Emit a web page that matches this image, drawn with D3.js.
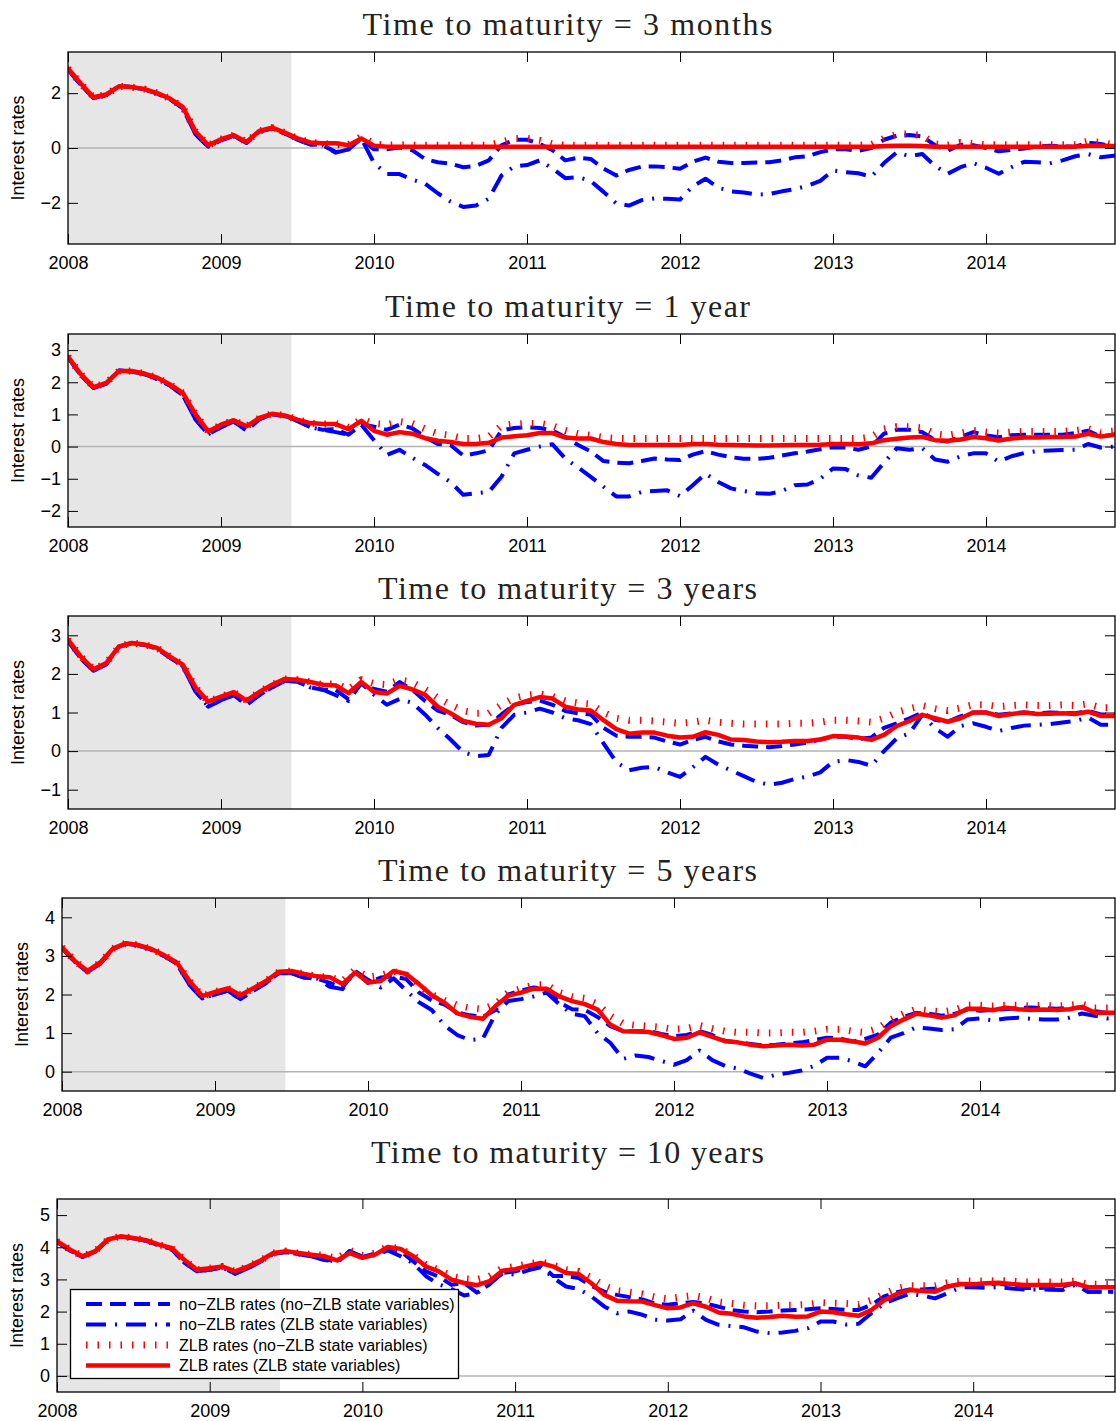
<!DOCTYPE html>
<html>
<head>
<meta charset="utf-8">
<script src="https://cdn.jsdelivr.net/npm/d3@7"></script>
<style>
  body { margin: 0; background: #fff; }
  svg { display: block; }
</style>
</head>
<body>
<svg id="chart" width="1116" height="1421"></svg>
<script>
// monthly observations, Jan 2008 .. Dec 2014
var startYear = 2008;
var nMonths = 84;
var yearTicks = [2008, 2009, 2010, 2011, 2012, 2013, 2014];
var recessionEnd = 2009.46;   // grey band: start of sample to mid 2009

var titles = [
  "Time to maturity = 3 months",
  "Time to maturity = 1 year",
  "Time to maturity = 3 years",
  "Time to maturity = 5 years",
  "Time to maturity = 10 years"
];
var yLabel = "Interest rates";
var yDomains = [[-3.5, 3.5], [-2.5, 3.5], [-1.5, 3.5], [-0.5, 4.5], [-0.5, 5.5]];
var yTicks = [[-2, 0, 2], [-2, -1, 0, 1, 2, 3], [-1, 0, 1, 2, 3], [0, 1, 2, 3, 4], [0, 1, 2, 3, 4, 5]];

var legendLabels = [
  "no\u2212ZLB rates (no\u2212ZLB state variables)",
  "no\u2212ZLB rates (ZLB state variables)",
  "ZLB rates (no\u2212ZLB state variables)",
  "ZLB rates (ZLB state variables)"
];

//---- 3 months ----
var m3NoZlbNoZlbState = [
  2.87, 2.3, 1.82, 1.93, 2.27, 2.22, 2.14, 1.98, 1.78, 1.45, 0.5, 0.05,
  0.28, 0.45, 0.18, 0.6, 0.72, 0.53, 0.3, 0.13, 0.1, -0.15, -0.05, 0.35,
  -0.05, -0.05, 0.02, -0.08, -0.4, -0.52, -0.57, -0.7, -0.65, -0.45, 0.1, 0.3,
  0.3, 0.15, -0.08, -0.45, -0.35, -0.4, -0.75, -1.0, -0.8, -0.68, -0.67, -0.7,
  -0.76, -0.5, -0.35, -0.5, -0.55, -0.55, -0.53, -0.52, -0.45, -0.34, -0.3, -0.15,
  -0.05, -0.05, -0.1, 0.0, 0.3, 0.45, 0.47, 0.42, 0.1, -0.1, 0.12, 0.1,
  0.0, -0.12, -0.07, -0.02, 0.05, 0.08, 0.06, 0.05, 0.2, 0.15, 0.05, 0.02
];
var m3NoZlbZlbState = [
  2.87, 2.3, 1.82, 1.93, 2.27, 2.22, 2.14, 1.98, 1.78, 1.45, 0.5, 0.05,
  0.28, 0.45, 0.18, 0.6, 0.72, 0.53, 0.3, 0.13, 0.1, -0.17, -0.05, 0.35,
  -0.55, -0.95, -0.95, -1.15, -1.3, -1.65, -1.95, -2.15, -2.1, -1.85, -1.0, -0.67,
  -0.62, -0.45, -0.75, -1.1, -1.06, -1.2, -1.6, -2.02, -2.1, -1.9, -1.84, -1.85,
  -1.88, -1.4, -1.12, -1.45, -1.58, -1.62, -1.7, -1.68, -1.58, -1.5, -1.38, -1.2,
  -0.82, -0.88, -0.92, -1.05, -0.55, -0.16, -0.3, -0.22, -0.65, -0.94, -0.7, -0.55,
  -0.72, -0.94, -0.7, -0.5, -0.52, -0.56, -0.45, -0.3, -0.22, -0.34, -0.28, -0.3
];
var m3ZlbNoZlbState = [
  2.9, 2.35, 1.85, 1.95, 2.25, 2.22, 2.15, 2.0, 1.8, 1.5, 0.6, 0.1,
  0.32, 0.47, 0.22, 0.62, 0.74, 0.56, 0.35, 0.2, 0.17, 0.12, 0.12, 0.42,
  0.15, 0.1, 0.12, 0.1, 0.1, 0.1, 0.1, 0.1, 0.1, 0.1, 0.22, 0.35,
  0.35, 0.28, 0.15, 0.1, 0.1, 0.1, 0.1, 0.1, 0.1, 0.1, 0.1, 0.1,
  0.1, 0.1, 0.1, 0.1, 0.1, 0.1, 0.1, 0.1, 0.1, 0.1, 0.1, 0.1,
  0.1, 0.1, 0.1, 0.12, 0.35, 0.5, 0.52, 0.45, 0.15, 0.1, 0.2, 0.15,
  0.12, 0.12, 0.12, 0.12, 0.12, 0.12, 0.12, 0.12, 0.25, 0.2, 0.12, 0.1
];
var m3ZlbZlbState = [
  2.9, 2.35, 1.85, 1.95, 2.25, 2.22, 2.15, 2.0, 1.8, 1.5, 0.6, 0.1,
  0.32, 0.47, 0.22, 0.62, 0.74, 0.56, 0.35, 0.2, 0.17, 0.17, 0.1, 0.35,
  0.08, 0.05, 0.05, 0.05, 0.05, 0.05, 0.05, 0.05, 0.05, 0.05, 0.05, 0.05,
  0.05, 0.05, 0.05, 0.05, 0.05, 0.05, 0.05, 0.05, 0.05, 0.05, 0.05, 0.05,
  0.05, 0.05, 0.05, 0.05, 0.05, 0.05, 0.05, 0.05, 0.05, 0.05, 0.05, 0.05,
  0.05, 0.05, 0.05, 0.05, 0.07, 0.08, 0.08, 0.07, 0.05, 0.05, 0.05, 0.05,
  0.05, 0.05, 0.05, 0.05, 0.05, 0.05, 0.05, 0.05, 0.08, 0.08, 0.07, 0.07
];

//---- 1 year ----
var y1NoZlbNoZlbState = [
  2.78, 2.22, 1.82, 1.96, 2.37, 2.33, 2.25, 2.1, 1.9, 1.6, 0.85, 0.38,
  0.6, 0.78, 0.5, 0.85, 1.0, 0.95, 0.8, 0.6, 0.52, 0.54, 0.37, 0.7,
  0.62, 0.52, 0.68, 0.57, 0.3, 0.08, 0.05, -0.28, -0.21, -0.12, 0.5, 0.58,
  0.6, 0.58, 0.5, 0.3, 0.05, -0.15, -0.45, -0.5, -0.52, -0.45, -0.37, -0.4,
  -0.42, -0.25, -0.14, -0.25, -0.33, -0.38, -0.38, -0.35, -0.28, -0.21, -0.15, -0.08,
  -0.02, -0.03, -0.1, 0.0, 0.4, 0.52, 0.52, 0.45, 0.2, 0.16, 0.3, 0.45,
  0.35, 0.29, 0.35, 0.37, 0.37, 0.37, 0.37, 0.42, 0.49, 0.31, 0.37, 0.37
];
var y1NoZlbZlbState = [
  2.78, 2.22, 1.82, 1.96, 2.37, 2.33, 2.25, 2.1, 1.9, 1.6, 0.85, 0.38,
  0.6, 0.78, 0.5, 0.85, 1.0, 0.95, 0.8, 0.6, 0.52, 0.45, 0.37, 0.68,
  0.2, -0.26, -0.1, -0.35, -0.57, -0.85, -1.1, -1.5, -1.45, -1.41, -0.94, -0.21,
  -0.1, 0.0, 0.07, -0.37, -0.65, -0.94, -1.25, -1.55, -1.55, -1.41, -1.38, -1.36,
  -1.54, -1.2, -0.84, -1.1, -1.3, -1.38, -1.45, -1.47, -1.38, -1.2, -1.18, -1.0,
  -0.68, -0.7, -0.9, -0.97, -0.5, -0.05, -0.1, -0.05, -0.4, -0.47, -0.3, -0.21,
  -0.21, -0.47, -0.3, -0.2, -0.14, -0.12, -0.11, -0.1, 0.08, -0.03, 0.0, 0.0
];
var y1ZlbNoZlbState = [
  2.8, 2.25, 1.85, 1.98, 2.35, 2.35, 2.27, 2.14, 1.93, 1.67, 1.0, 0.47,
  0.68, 0.82, 0.63, 0.89, 1.02, 0.97, 0.84, 0.73, 0.7, 0.72, 0.6, 0.85,
  0.72, 0.68, 0.78, 0.72, 0.55, 0.4, 0.35, 0.25, 0.25, 0.3, 0.65, 0.7,
  0.72, 0.72, 0.65, 0.5, 0.4, 0.35, 0.28, 0.25, 0.25, 0.25, 0.25, 0.25,
  0.25, 0.25, 0.25, 0.25, 0.25, 0.25, 0.25, 0.25, 0.25, 0.25, 0.25, 0.25,
  0.25, 0.25, 0.25, 0.3, 0.55, 0.62, 0.62, 0.58, 0.4, 0.35, 0.42, 0.5,
  0.45, 0.42, 0.45, 0.47, 0.47, 0.47, 0.47, 0.5, 0.55, 0.45, 0.48, 0.48
];
var y1ZlbZlbState = [
  2.8, 2.25, 1.85, 1.98, 2.35, 2.35, 2.27, 2.14, 1.93, 1.67, 1.0, 0.47,
  0.68, 0.82, 0.63, 0.89, 1.02, 0.97, 0.84, 0.73, 0.7, 0.7, 0.54, 0.8,
  0.49, 0.37, 0.45, 0.4, 0.26, 0.18, 0.14, 0.08, 0.08, 0.12, 0.28, 0.32,
  0.35, 0.42, 0.42, 0.28, 0.25, 0.25, 0.14, 0.08, 0.05, 0.05, 0.05, 0.05,
  0.05, 0.08, 0.08, 0.06, 0.05, 0.04, 0.03, 0.03, 0.04, 0.05, 0.05, 0.06,
  0.08, 0.08, 0.07, 0.1, 0.2, 0.24, 0.28, 0.3, 0.2, 0.18, 0.22, 0.3,
  0.26, 0.19, 0.25, 0.28, 0.28, 0.3, 0.3, 0.31, 0.4, 0.31, 0.37, 0.37
];

//---- 3 years ----
var y3NoZlbNoZlbState = [
  2.86, 2.4, 2.08, 2.25, 2.7, 2.8, 2.75, 2.65, 2.42, 2.2, 1.55, 1.15,
  1.32, 1.45, 1.2, 1.45, 1.65, 1.82, 1.8, 1.65, 1.59, 1.59, 1.34, 1.76,
  1.61, 1.54, 1.79, 1.59, 1.3, 1.05, 0.94, 0.75, 0.66, 0.68, 0.95, 1.2,
  1.27, 1.31, 1.2, 1.04, 0.98, 0.95, 0.6, 0.4, 0.37, 0.37, 0.35, 0.25,
  0.17, 0.29, 0.37, 0.25, 0.17, 0.14, 0.12, 0.1, 0.13, 0.17, 0.22, 0.3,
  0.37, 0.37, 0.31, 0.35, 0.6, 0.72, 0.85, 1.0, 0.81, 0.76, 0.9, 1.0,
  1.0, 0.94, 0.98, 1.0, 0.98, 1.0, 0.99, 0.98, 1.04, 0.95, 0.94, 0.94
];
var y3NoZlbZlbState = [
  2.86, 2.4, 2.08, 2.25, 2.7, 2.8, 2.75, 2.65, 2.42, 2.2, 1.55, 1.15,
  1.32, 1.45, 1.2, 1.45, 1.65, 1.82, 1.8, 1.65, 1.59, 1.45, 1.3, 1.76,
  1.46, 1.2, 1.35, 1.25, 0.95, 0.6, 0.3, -0.03, -0.13, -0.1, 0.6, 0.94,
  1.0, 1.1, 1.0, 0.85, 0.8, 0.7, 0.2, -0.28, -0.5, -0.43, -0.41, -0.55,
  -0.67, -0.42, -0.15, -0.35, -0.5, -0.65, -0.8, -0.87, -0.82, -0.72, -0.66, -0.55,
  -0.28, -0.23, -0.28, -0.38, 0.0, 0.33, 0.46, 0.94, 0.59, 0.37, 0.65, 0.72,
  0.63, 0.52, 0.6, 0.66, 0.68, 0.7, 0.74, 0.78, 0.87, 0.68, 0.69, 0.69
];
var y3ZlbNoZlbState = [
  2.89, 2.45, 2.12, 2.28, 2.71, 2.8, 2.76, 2.67, 2.45, 2.24, 1.65, 1.28,
  1.41, 1.53, 1.31, 1.53, 1.72, 1.87, 1.85, 1.79, 1.72, 1.75, 1.6, 1.85,
  1.75, 1.72, 1.85, 1.78, 1.6, 1.38, 1.2, 1.05, 0.98, 0.98, 1.2, 1.38,
  1.45, 1.48, 1.42, 1.3, 1.25, 1.22, 1.0, 0.85, 0.8, 0.8, 0.78, 0.75,
  0.72, 0.75, 0.8, 0.75, 0.72, 0.7, 0.7, 0.7, 0.7, 0.72, 0.72, 0.75,
  0.8, 0.8, 0.78, 0.75, 0.85, 1.0, 1.1, 1.18, 1.1, 1.05, 1.12, 1.2,
  1.2, 1.15, 1.18, 1.2, 1.18, 1.18, 1.2, 1.18, 1.22, 1.12, 1.12, 1.12
];
var y3ZlbZlbState = [
  2.89, 2.45, 2.12, 2.28, 2.71, 2.8, 2.76, 2.67, 2.45, 2.24, 1.65, 1.28,
  1.41, 1.53, 1.31, 1.53, 1.72, 1.87, 1.85, 1.79, 1.72, 1.7, 1.5, 1.79,
  1.53, 1.49, 1.69, 1.6, 1.46, 1.15, 0.98, 0.78, 0.71, 0.68, 0.85, 1.2,
  1.3, 1.4, 1.36, 1.15, 1.08, 1.05, 0.8, 0.57, 0.45, 0.48, 0.48, 0.4,
  0.35, 0.37, 0.49, 0.42, 0.3, 0.29, 0.25, 0.23, 0.24, 0.26, 0.26, 0.3,
  0.39, 0.38, 0.35, 0.29, 0.42, 0.65, 0.78, 0.94, 0.85, 0.76, 0.85, 1.0,
  1.0, 0.91, 0.96, 1.0, 0.96, 0.97, 0.98, 0.96, 1.02, 0.91, 0.91, 0.91
];

//---- 5 years ----
var y5NoZlbNoZlbState = [
  3.2, 2.85, 2.58, 2.8, 3.18, 3.32, 3.27, 3.16, 3.0, 2.8, 2.25, 1.9,
  2.0, 2.1, 1.88, 2.1, 2.3, 2.55, 2.55, 2.44, 2.41, 2.3, 2.18, 2.61,
  2.3, 2.44, 2.47, 2.4, 2.05, 1.85, 1.74, 1.53, 1.46, 1.42, 1.6, 2.0,
  2.1, 2.18, 2.15, 1.8, 1.62, 1.6, 1.42, 1.18, 1.05, 1.05, 1.05, 0.98,
  0.92, 0.95, 1.05, 0.95, 0.8, 0.76, 0.72, 0.68, 0.7, 0.73, 0.76, 0.82,
  0.88, 0.86, 0.78, 0.85, 0.96, 1.27, 1.42, 1.52, 1.5, 1.45, 1.5, 1.61,
  1.58, 1.6, 1.62, 1.65, 1.66, 1.65, 1.63, 1.65, 1.66, 1.57, 1.52, 1.51
];
var y5NoZlbZlbState = [
  3.2, 2.85, 2.58, 2.8, 3.18, 3.32, 3.27, 3.16, 3.0, 2.8, 2.25, 1.9,
  2.0, 2.1, 1.88, 2.1, 2.3, 2.55, 2.55, 2.44, 2.41, 2.2, 2.14, 2.61,
  2.38, 2.18, 2.42, 2.1, 1.8, 1.6, 1.2, 0.95, 0.82, 0.85, 1.5, 1.83,
  1.88, 1.95, 2.05, 1.75, 1.5, 1.44, 1.0, 0.75, 0.33, 0.42, 0.38, 0.28,
  0.18, 0.3, 0.55, 0.3, 0.15, 0.08, -0.05, -0.16, -0.08, -0.03, 0.03, 0.15,
  0.36, 0.36, 0.27, 0.14, 0.49, 0.88, 1.0, 1.15, 1.12, 1.08, 1.1, 1.35,
  1.38, 1.33, 1.38, 1.4, 1.37, 1.35, 1.35, 1.4, 1.51, 1.45, 1.38, 1.37
];
var y5ZlbNoZlbState = [
  3.22, 2.87, 2.61, 2.83, 3.19, 3.33, 3.28, 3.18, 3.02, 2.83, 2.35, 1.96,
  2.07, 2.16, 1.98, 2.16, 2.35, 2.59, 2.61, 2.53, 2.47, 2.45, 2.35, 2.65,
  2.45, 2.5, 2.6, 2.5, 2.2, 2.0, 1.85, 1.72, 1.65, 1.62, 1.75, 2.05,
  2.15, 2.25, 2.25, 2.05, 1.95, 1.9, 1.75, 1.45, 1.25, 1.2, 1.18, 1.15,
  1.1, 1.12, 1.2, 1.12, 1.05, 1.02, 1.02, 1.0, 1.0, 1.02, 1.02, 1.05,
  1.1, 1.1, 1.05, 1.02, 1.12, 1.35, 1.5, 1.62, 1.58, 1.55, 1.6, 1.72,
  1.72, 1.7, 1.72, 1.72, 1.7, 1.72, 1.7, 1.72, 1.75, 1.65, 1.65, 1.65
];
var y5ZlbZlbState = [
  3.22, 2.87, 2.61, 2.83, 3.19, 3.33, 3.28, 3.18, 3.02, 2.83, 2.35, 1.96,
  2.07, 2.16, 1.98, 2.16, 2.35, 2.59, 2.61, 2.53, 2.47, 2.45, 2.27, 2.57,
  2.31, 2.35, 2.61, 2.53, 2.27, 1.98, 1.79, 1.51, 1.42, 1.37, 1.7, 1.97,
  2.05, 2.15, 2.15, 1.95, 1.83, 1.75, 1.61, 1.22, 1.05, 1.04, 1.03, 0.95,
  0.85, 0.88, 1.02, 0.9, 0.79, 0.76, 0.7, 0.66, 0.68, 0.7, 0.68, 0.7,
  0.83, 0.83, 0.79, 0.73, 0.88, 1.18, 1.35, 1.5, 1.46, 1.4, 1.46, 1.63,
  1.63, 1.59, 1.66, 1.62, 1.6, 1.61, 1.6, 1.62, 1.68, 1.53, 1.53, 1.53
];

//---- 10 years ----
var y10NoZlbNoZlbState = [
  4.17, 3.9, 3.7, 3.86, 4.23, 4.33, 4.28, 4.2, 4.06, 3.95, 3.52, 3.25,
  3.3, 3.37, 3.18, 3.35, 3.55, 3.8, 3.85, 3.78, 3.72, 3.67, 3.51, 3.88,
  3.7, 3.8, 3.93, 3.88, 3.56, 3.25, 3.09, 2.83, 2.89, 2.59, 2.85, 3.2,
  3.25, 3.35, 3.46, 3.11, 3.11, 3.04, 2.8, 2.62, 2.52, 2.45, 2.38, 2.25,
  2.21, 2.26, 2.3, 2.25, 2.15, 2.05, 2.0, 1.98, 2.0, 2.03, 2.05, 2.07,
  2.1, 2.08, 2.05, 2.05, 2.21, 2.47, 2.6, 2.69, 2.69, 2.72, 2.78, 2.85,
  2.86, 2.83, 2.88, 2.8, 2.73, 2.73, 2.75, 2.78, 2.88, 2.62, 2.62, 2.62
];
var y10NoZlbZlbState = [
  4.17, 3.9, 3.7, 3.86, 4.23, 4.33, 4.28, 4.2, 4.06, 3.95, 3.52, 3.25,
  3.3, 3.37, 3.18, 3.35, 3.55, 3.8, 3.85, 3.78, 3.72, 3.6, 3.56, 3.88,
  3.7, 3.75, 3.9, 3.72, 3.5, 3.1, 2.85, 2.7, 2.5, 2.57, 2.89, 3.18,
  3.15, 3.28, 3.38, 3.05, 2.78, 2.7, 2.47, 2.16, 1.95, 2.0, 1.9, 1.75,
  1.72, 1.76, 2.03, 1.74, 1.59, 1.55, 1.51, 1.38, 1.33, 1.35, 1.4, 1.48,
  1.69, 1.69, 1.6, 1.62, 1.95, 2.25, 2.41, 2.55, 2.5, 2.41, 2.57, 2.75,
  2.76, 2.74, 2.76, 2.72, 2.69, 2.69, 2.68, 2.67, 2.83, 2.62, 2.62, 2.62
];
var y10ZlbNoZlbState = [
  4.19, 3.93, 3.72, 3.88, 4.24, 4.34, 4.29, 4.22, 4.08, 3.98, 3.61, 3.3,
  3.35, 3.4, 3.25, 3.4, 3.59, 3.82, 3.88, 3.82, 3.77, 3.75, 3.65, 3.9,
  3.75, 3.82, 4.02, 3.95, 3.75, 3.45, 3.3, 3.1, 3.02, 3.0, 3.1, 3.35,
  3.4, 3.48, 3.55, 3.45, 3.3, 3.25, 3.05, 2.8, 2.65, 2.6, 2.55, 2.45,
  2.4, 2.45, 2.5, 2.42, 2.3, 2.25, 2.2, 2.18, 2.18, 2.2, 2.2, 2.22,
  2.28, 2.26, 2.25, 2.22, 2.35, 2.55, 2.72, 2.8, 2.8, 2.8, 2.9, 2.95,
  2.95, 2.95, 2.96, 2.95, 2.92, 2.92, 2.92, 2.92, 2.95, 2.85, 2.85, 2.85
];
var y10ZlbZlbState = [
  4.19, 3.93, 3.72, 3.88, 4.24, 4.34, 4.29, 4.22, 4.08, 3.98, 3.61, 3.3,
  3.35, 3.4, 3.25, 3.4, 3.59, 3.82, 3.88, 3.82, 3.77, 3.72, 3.59, 3.82,
  3.67, 3.77, 4.01, 3.95, 3.72, 3.4, 3.25, 2.99, 2.89, 2.82, 2.95, 3.27,
  3.32, 3.42, 3.51, 3.4, 3.2, 3.17, 2.88, 2.52, 2.34, 2.32, 2.31, 2.2,
  2.1, 2.13, 2.26, 2.15, 1.97, 1.93, 1.85, 1.81, 1.83, 1.87, 1.84, 1.85,
  2.0, 1.98, 1.92, 1.87, 2.05, 2.35, 2.55, 2.67, 2.64, 2.62, 2.78, 2.86,
  2.85, 2.88, 2.9, 2.86, 2.83, 2.83, 2.83, 2.83, 2.88, 2.76, 2.76, 2.76
];

// decimal year of every monthly observation
var dates = d3.range(nMonths).map(function (i) { return startYear + i / 12; });

// line styles in legend order
var styles = [
  { color: "#0000ff", width: 4, dash: "16,8" },
  { color: "#0000ff", width: 4, dash: "20,9,2,9" },
  { color: "#ff0000", width: 7, dash: "1.5,10" },
  { color: "#ff0000", width: 4.5, dash: null }
];

// panel layout (pixels)
var plotRight = 1115;
var panels = [
  { series: [m3NoZlbNoZlbState, m3NoZlbZlbState, m3ZlbNoZlbState, m3ZlbZlbState],
    left: 68, top: 52, bottom: 244, yearPx: 153, labelX: 18, titleY: 35, titleLen: 410 },
  { series: [y1NoZlbNoZlbState, y1NoZlbZlbState, y1ZlbNoZlbState, y1ZlbZlbState],
    left: 68, top: 334, bottom: 527, yearPx: 153, labelX: 18, titleY: 317, titleLen: 365 },
  { series: [y3NoZlbNoZlbState, y3NoZlbZlbState, y3ZlbNoZlbState, y3ZlbZlbState],
    left: 68, top: 616, bottom: 809, yearPx: 153, labelX: 18, titleY: 599, titleLen: 379 },
  { series: [y5NoZlbNoZlbState, y5NoZlbZlbState, y5ZlbNoZlbState, y5ZlbZlbState],
    left: 62, top: 898, bottom: 1091, yearPx: 153, labelX: 22, titleY: 881, titleLen: 379 },
  { series: [y10NoZlbNoZlbState, y10NoZlbZlbState, y10ZlbNoZlbState, y10ZlbZlbState],
    left: 57, top: 1199, bottom: 1392, yearPx: 152.7, labelX: 17, titleY: 1163, titleLen: 393 }
];

var svg = d3.select("#chart");
var sansFont = "'Liberation Sans', Arial, Helvetica, sans-serif";

panels.forEach(function (p, k) {
  var x = d3.scaleLinear().domain([startYear, startYear + 1]).range([p.left, p.left + p.yearPx]);
  var y = d3.scaleLinear().domain(yDomains[k]).range([p.bottom, p.top]);
  var g = svg.append("g");

  var clipId = "clip" + k;
  g.append("clipPath").attr("id", clipId).append("rect")
    .attr("x", p.left).attr("y", p.top)
    .attr("width", plotRight - p.left).attr("height", p.bottom - p.top);

  var plot = g.append("g").attr("clip-path", "url(#" + clipId + ")");

  // grey band
  plot.append("rect")
    .attr("x", x(startYear)).attr("y", p.top)
    .attr("width", x(recessionEnd) - x(startYear))
    .attr("height", p.bottom - p.top)
    .attr("fill", "#e6e6e6");

  // zero line
  plot.append("line")
    .attr("x1", p.left).attr("x2", plotRight)
    .attr("y1", y(0)).attr("y2", y(0))
    .attr("stroke", "#b3b3b3").attr("stroke-width", 1.5);

  var line = d3.line()
    .x(function (d, i) { return x(dates[i]); })
    .y(function (d) { return y(d); });

  p.series.forEach(function (s, j) {
    var st = styles[j];
    plot.append("path")
      .attr("d", line(s))
      .attr("fill", "none")
      .attr("stroke", st.color)
      .attr("stroke-width", st.width)
      .attr("stroke-dasharray", st.dash)
      .attr("stroke-linejoin", "round")
      .attr("stroke-linecap", st.dash ? "butt" : "round");
  });

  // axes, ticks pointing inside
  var left = g.append("g").attr("transform", "translate(" + p.left + ",0)")
    .call(d3.axisLeft(y).tickValues(yTicks[k]).tickFormat(d3.format("d")).tickSize(-10).tickPadding(7));
  var right = g.append("g").attr("transform", "translate(" + plotRight + ",0)")
    .call(d3.axisRight(y).tickValues(yTicks[k]).tickSize(-10).tickFormat(""));
  var bottom = g.append("g").attr("transform", "translate(0," + p.bottom + ")")
    .call(d3.axisBottom(x).tickValues(yearTicks).tickFormat(d3.format("d")).tickSize(-10).tickPadding(12));
  var top = g.append("g").attr("transform", "translate(0," + p.top + ")")
    .call(d3.axisTop(x).tickValues(yearTicks).tickSize(-10).tickFormat(""));

  [left, right, bottom, top].forEach(function (a) {
    a.select(".domain").remove();
    a.selectAll(".tick line").attr("stroke", "#000").attr("stroke-width", 1);
    a.selectAll("text").attr("font-family", sansFont).attr("font-size", 18).attr("fill", "#000");
  });

  // frame
  g.append("rect")
    .attr("x", p.left).attr("y", p.top)
    .attr("width", plotRight - p.left).attr("height", p.bottom - p.top)
    .attr("fill", "none").attr("stroke", "#000").attr("stroke-width", 1.3);

  // y label
  g.append("text")
    .attr("transform", "translate(" + p.labelX + "," + (p.top + p.bottom) / 2 + ") rotate(-90)")
    .attr("text-anchor", "middle")
    .attr("dy", "0.35em")
    .attr("font-family", sansFont)
    .attr("font-size", 18)
    .text(yLabel);

  // title
  g.append("text")
    .attr("x", 567.5).attr("y", p.titleY)
    .attr("text-anchor", "middle")
    .attr("font-family", "'Liberation Serif', 'Times New Roman', serif")
    .attr("font-size", 32)
    .attr("fill", "#222")
    .attr("textLength", p.titleLen)
    .attr("lengthAdjust", "spacing")
    .text(titles[k]);
});

// legend inside the last panel
var legend = svg.append("g");
legend.append("rect")
  .attr("x", 70.5).attr("y", 1289.5).attr("width", 388).attr("height", 89)
  .attr("fill", "#fff").attr("stroke", "#000").attr("stroke-width", 1.3);

legendLabels.forEach(function (label, j) {
  var st = styles[j];
  var ly = 1304 + j * 20.5;
  legend.append("line")
    .attr("x1", 86).attr("x2", 170).attr("y1", ly).attr("y2", ly)
    .attr("stroke", st.color)
    .attr("stroke-width", st.width)
    .attr("stroke-dasharray", st.dash);
  legend.append("text")
    .attr("x", 179).attr("y", ly)
    .attr("dy", "0.35em")
    .attr("font-family", sansFont)
    .attr("font-size", 16)
    .text(label);
});
</script>
</body>
</html>
